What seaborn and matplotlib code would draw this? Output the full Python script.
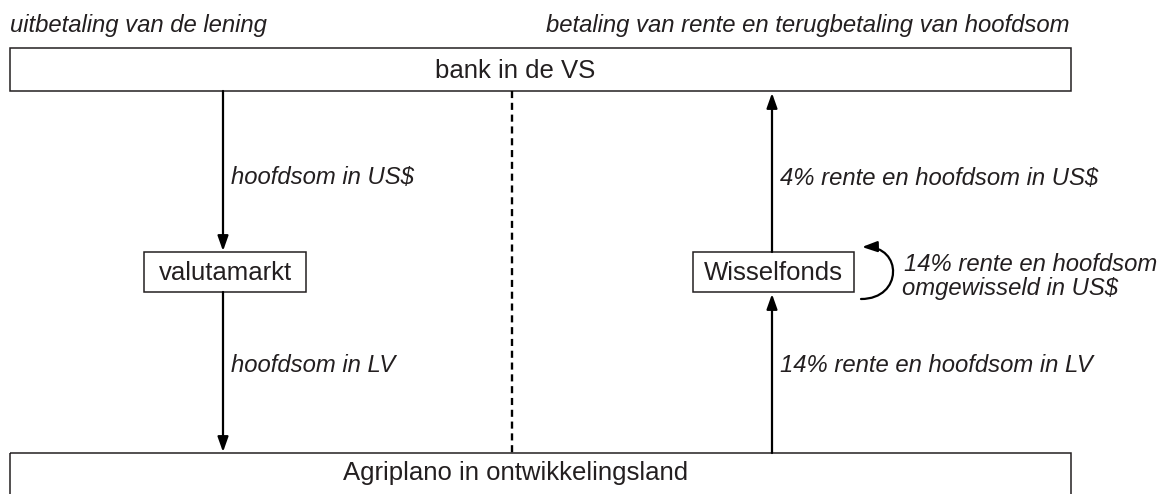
import matplotlib
matplotlib.use("Agg")
import matplotlib.pyplot as plt
import seaborn as sns
from matplotlib.patches import Rectangle, FancyArrowPatch
from matplotlib.path import Path

# ----------------------------
# 1. Diagram content
# ----------------------------
header_labels = ["uitbetaling van de lening",
                 "betaling van rente en terugbetaling van hoofdsom"]
box_names = ["bank in de VS", "valutamarkt", "Wisselfonds",
             "Agriplano in ontwikkelingsland"]
left_flow_labels = ["hoofdsom in US$", "hoofdsom in LV"]
right_flow_labels = ["4% rente en hoofdsom in US$", "14% rente en hoofdsom in LV"]
exchange_label = ["14% rente en hoofdsom", "omgewisseld in US$"]

# layout in pixel units (x0, y0, x1, y1), y grows downwards
box_pos = [(10, 48, 1071, 91), (144, 252, 306, 292),
           (693, 252, 854, 292), (10, 453, 1071, 530)]
box_text_x = [515, 225, 773, 516]
box_text_y = [71, 273, 273, 473]

ink = "#231f20"
lbl_size = 17.2

# ----------------------------
# 2. Figure setup
# ----------------------------
sns.set_theme(style="white")
plt.rcParams["font.family"] = ["Liberation Sans", "DejaVu Sans"]

fig = plt.figure(figsize=(11.68, 4.94), dpi=100)
ax = fig.add_axes([0, 0, 1, 1])
ax.set_xlim(0, 1168)
ax.set_ylim(494, 0)
ax.axis("off")

# ----------------------------
# 3. Boxes
# ----------------------------
for name, (x0, y0, x1, y1), tx, ty in zip(box_names, box_pos,
                                          box_text_x, box_text_y):
    ax.add_patch(Rectangle((x0, y0), x1 - x0, y1 - y0, fill=False,
                           lw=1.1, ec=ink))
    ax.text(tx, ty, name, ha="center", va="center", fontsize=18.5, color=ink)

# header texts
ax.text(10, 32, header_labels[0], ha="left", va="baseline",
        fontsize=lbl_size, style="italic", color=ink)
ax.text(1069, 32, header_labels[1], ha="right", va="baseline",
        fontsize=lbl_size, style="italic", color=ink)

# ----------------------------
# 4. Arrows
# ----------------------------
head = "-|>,head_length=0.9,head_width=0.32"


def arrow(x, y_start, y_end):
    ax.annotate("", xy=(x, y_end), xytext=(x, y_start),
                arrowprops=dict(arrowstyle=head, mutation_scale=10, lw=1.6,
                                color="black", shrinkA=0, shrinkB=0))


arrow(223, 91, 251)
arrow(223, 292, 452)
arrow(772, 252, 93)
arrow(772, 453, 294)

# dashed separator
ax.plot([512, 512], [91, 453], color="black", lw=1.7, ls=(0, (3, 2)))

# flow labels
for lbl, y in zip(left_flow_labels, [184, 372]):
    ax.text(231, y, lbl, ha="left", va="baseline", fontsize=lbl_size,
            style="italic", color=ink)
for lbl, y in zip(right_flow_labels, [185, 372]):
    ax.text(780, y, lbl, ha="left", va="baseline", fontsize=lbl_size,
            style="italic", color=ink)

# curved exchange arrow
verts = [(861, 299), (903, 299), (903, 246), (862, 247)]
codes = [Path.MOVETO, Path.CURVE4, Path.CURVE4, Path.CURVE4]
ax.add_patch(FancyArrowPatch(path=Path(verts, codes), arrowstyle=head,
                             mutation_scale=10, lw=1.6, color="black"))
ax.text(904, 271, exchange_label[0], ha="left", va="baseline",
        fontsize=lbl_size, style="italic", color=ink)
ax.text(902, 295, exchange_label[1], ha="left", va="baseline",
        fontsize=lbl_size, style="italic", color=ink)

fig.savefig("out.png", dpi=100)
